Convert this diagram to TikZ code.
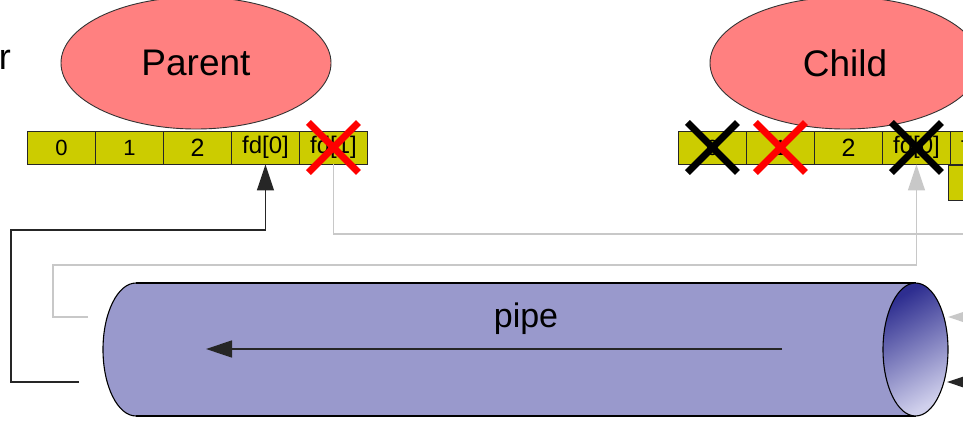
\documentclass[tikz,border=0pt]{standalone}
\usepackage{fontspec}
\setmainfont{Liberation Sans}
\usetikzlibrary{shapes.geometric,arrows.meta}
\definecolor{procc}{HTML}{FF8080}
\definecolor{cellc}{HTML}{CCCC00}
\definecolor{pipec}{HTML}{9999CC}
\definecolor{grayc}{HTML}{C8C8C8}
\definecolor{darkpipe}{HTML}{2E2E90}
\definecolor{lightpipe}{HTML}{D0D0EC}
\begin{document}
\begin{tikzpicture}[x=1pt,y=-1pt,
  procbox/.style={ellipse, draw=black!80, line width=0.9pt, fill=procc,
    minimum width=270pt, minimum height=132pt, inner sep=0pt,
    font=\fontsize{37}{40}\selectfont},
  cellbox/.style={draw=black!85, fill=cellc, line width=0.9pt,
    minimum width=68pt, minimum height=33pt, inner sep=0pt, anchor=west},
  smallnum/.style={font=\fontsize{22}{24}\selectfont},
  bignum/.style={font=\fontsize{25}{27}\selectfont},
  fdtext/.style={font=\fontsize{24}{26}\selectfont},
  blkline/.style={draw=black!85, line width=1.4pt},
  grayline/.style={draw=grayc, line width=1.4pt},
  tip/.style={-{Triangle[length=26pt,width=17pt]}},
  crossmark/.pic={\draw[line width=7pt] (-25,-25) -- (25,25) (-25,25) -- (25,-25);}
]
\useasboundingbox (0,0) rectangle (963,420);
\clip (0,0) rectangle (963,420);

% connectors
\coordinate (bA) at (79,382);
\coordinate (bB) at (11,230);
\coordinate (gA) at (88,317);
\coordinate (gB) at (53,265);
\coordinate (gC) at (975,234);
\coordinate (gD) at (990,317);
\coordinate (gE) at (948,317);
\coordinate (bC) at (990,382);
\coordinate (bD) at (947,382);

% pipe
\node[ellipse, draw=black, line width=1.1pt, fill=pipec, minimum width=66pt,
  minimum height=133pt, inner sep=0pt] (pipeL) at (136,349.5) {};
\fill[pipec] (136,283) rectangle (915.5,416);
\draw[black, line width=1.1pt] (136,283) -- (915.5,283) (136,416) -- (915.5,416);
\node[ellipse, draw=black, line width=1.1pt, minimum width=65pt,
  minimum height=133pt, inner sep=0pt, shading=axis, top color=darkpipe,
  bottom color=lightpipe, shading angle=30] (pipeR) at (915.5,349.5) {};
\node[font=\fontsize{34}{38}\selectfont, anchor=base, inner sep=0pt] (pipetxt) at (526,327) {pipe};
\coordinate (pa1) at (782,349);
\coordinate (pa2) at (206,349);
\draw[blkline, tip] (pa1) -- (pa2);

% processes
\node[procbox] (parent) at (196,63) {Parent};
\node[procbox] (child) at (845,63) {Child};
\node[font=\fontsize{36}{40}\selectfont, anchor=base east, inner sep=0pt] (rtxt) at (11,70) {r};

% parent table
\node[cellbox, smallnum] (p0) at (27,147.5) {0};
\node[cellbox, smallnum] (p1) at (95,147.5) {1};
\node[cellbox, bignum] (p2) at (163,147.5) {2};
\node[cellbox, fdtext] (p3) at (231,147.5) {fd[0]};
\node[cellbox, fdtext] (p4) at (299,147.5) {fd[1]};

% child table
\node[cellbox, smallnum] (c0) at (678,147.5) {0};
\node[cellbox, smallnum] (c1) at (746,147.5) {1};
\node[cellbox, bignum] (c2) at (814,147.5) {2};
\node[cellbox, fdtext] (c3) at (882,147.5) {fd[0]};
\node[cellbox, fdtext] (c4) at (950,147.5) {fd[1]};
\node[cellbox, anchor=north west, minimum height=35pt] (c5) at (948,165) {};

% connector paths
\draw[blkline, tip] (bA) -| (bB) -| (p3.south);
\draw[grayline, tip] (gA) -| (gB) -| (c3.south);
\draw[grayline] (p4.south) |- (gC);
\draw[grayline, tip] (gD) -- (gE);
\draw[blkline, tip] (bC) -- (bD);

% crosses
\pic[color=red] at (p4) {crossmark};
\pic[color=black] at (c0) {crossmark};
\pic[color=red] at (c1) {crossmark};
\pic[color=black] at (c3) {crossmark};
\end{tikzpicture}
\end{document}
